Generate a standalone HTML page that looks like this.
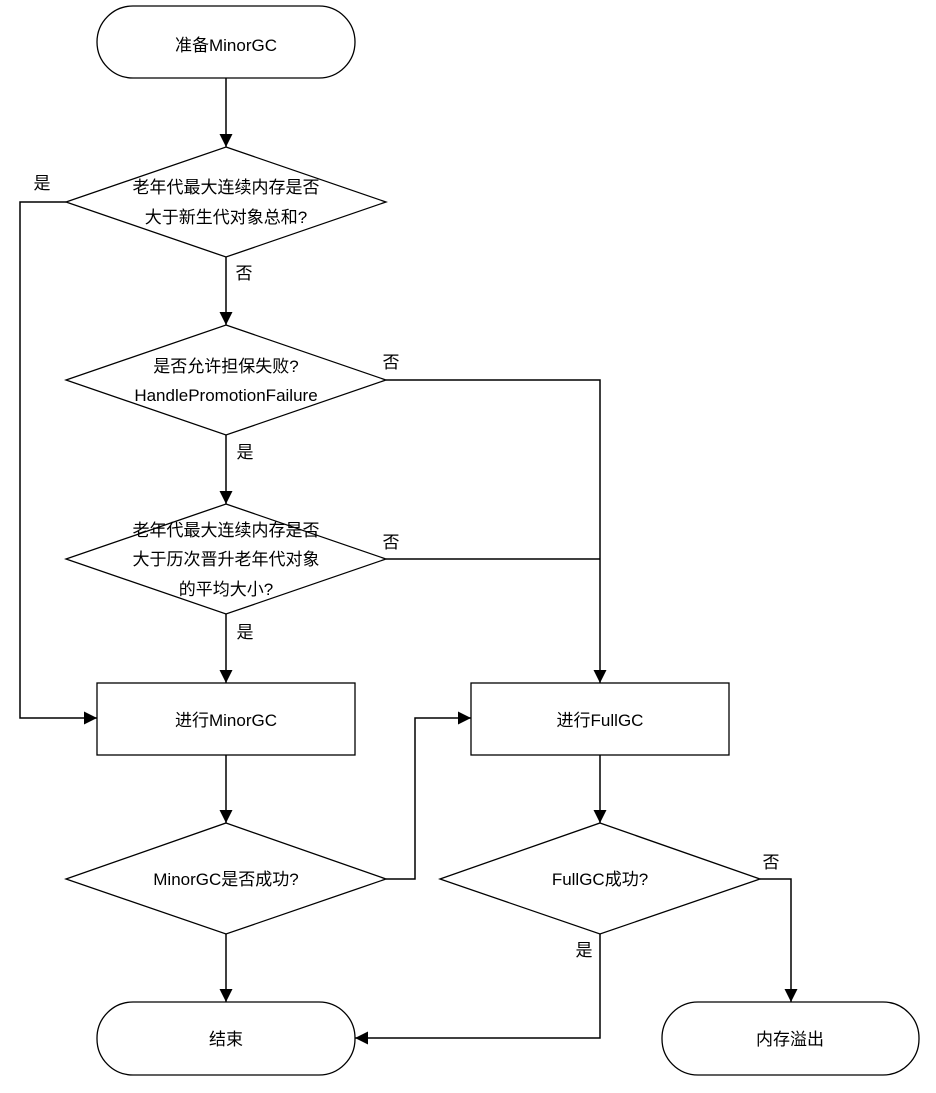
<!DOCTYPE html>
<html><head><meta charset="utf-8"><style>
html,body{margin:0;padding:0;background:#fff;}
svg text{font-family:"Liberation Sans","Noto Sans CJK SC",sans-serif;font-size:17px;fill:#000;}
</style></head><body>
<svg width="936" height="1088" viewBox="0 0 936 1088" xmlns="http://www.w3.org/2000/svg">
<defs><marker id="a" markerWidth="10" markerHeight="10" refX="9" refY="5" orient="auto" markerUnits="userSpaceOnUse"><path d="M0,0 L10,5 L0,10 Z" fill="#000"/></marker>
<marker id="b" markerWidth="12" markerHeight="14" refX="13" refY="7" orient="auto" markerUnits="userSpaceOnUse"><path d="M0,0.5 L13,7 L0,13.5 Z" fill="#000"/></marker></defs>
<g fill="#fff" stroke="#000" stroke-width="1.3">
<rect x="97" y="6" width="258" height="72" rx="36"/>
<polygon points="226,147 386,202 226,257 66,202"/>
<polygon points="226,325 386,380 226,435 66,380"/>
<polygon points="226,504 386,559 226,614 66,559"/>
<rect x="97" y="683" width="258" height="72"/>
<rect x="471" y="683" width="258" height="72"/>
<polygon points="226,823 386,879 226,934 66,879"/>
<polygon points="600,823 760,879 600,934 440,879"/>
<rect x="97" y="1002" width="258" height="73" rx="36"/>
<rect x="662" y="1002" width="257" height="73" rx="36"/>
</g>
<g fill="none" stroke="#000" stroke-width="1.5" marker-end="url(#b)">
<path d="M226,78 V147"/>
<path d="M66,202 H20 V718 H97"/>
<path d="M226,257 V325"/>
<path d="M386,380 H600 V683"/>
<path d="M226,435 V504"/>
<path d="M386,559 H600" marker-end="none"/>
<path d="M226,614 V683"/>
<path d="M226,755 V823"/>
<path d="M386,879 H415 V718 H471"/>
<path d="M226,934 V1002"/>
<path d="M600,755 V823"/>
<path d="M760,879 H791 V1002"/>
<path d="M600,934 V1038 H355"/>
</g>
<g text-anchor="middle">
<text x="226" y="51">准备MinorGC</text>
<text x="226" y="193">老年代最大连续内存是否</text>
<text x="226" y="223">大于新生代对象总和?</text>
<text x="226" y="372">是否允许担保失败?</text>
<text x="226" y="401">HandlePromotionFailure</text>
<text x="226" y="536">老年代最大连续内存是否</text>
<text x="226" y="565">大于历次晋升老年代对象</text>
<text x="226" y="595">的平均大小?</text>
<text x="226" y="726">进行MinorGC</text>
<text x="600" y="726">进行FullGC</text>
<text x="226" y="885">MinorGC是否成功?</text>
<text x="600" y="885">FullGC成功?</text>
<text x="226" y="1045">结束</text>
<text x="790" y="1045">内存溢出</text>
<text x="42" y="189">是</text>
<text x="244" y="279">否</text>
<text x="391" y="368">否</text>
<text x="245" y="458">是</text>
<text x="391" y="548">否</text>
<text x="245" y="638">是</text>
<text x="771" y="868">否</text>
<text x="584" y="956">是</text>
</g>
</svg>
</body></html>
